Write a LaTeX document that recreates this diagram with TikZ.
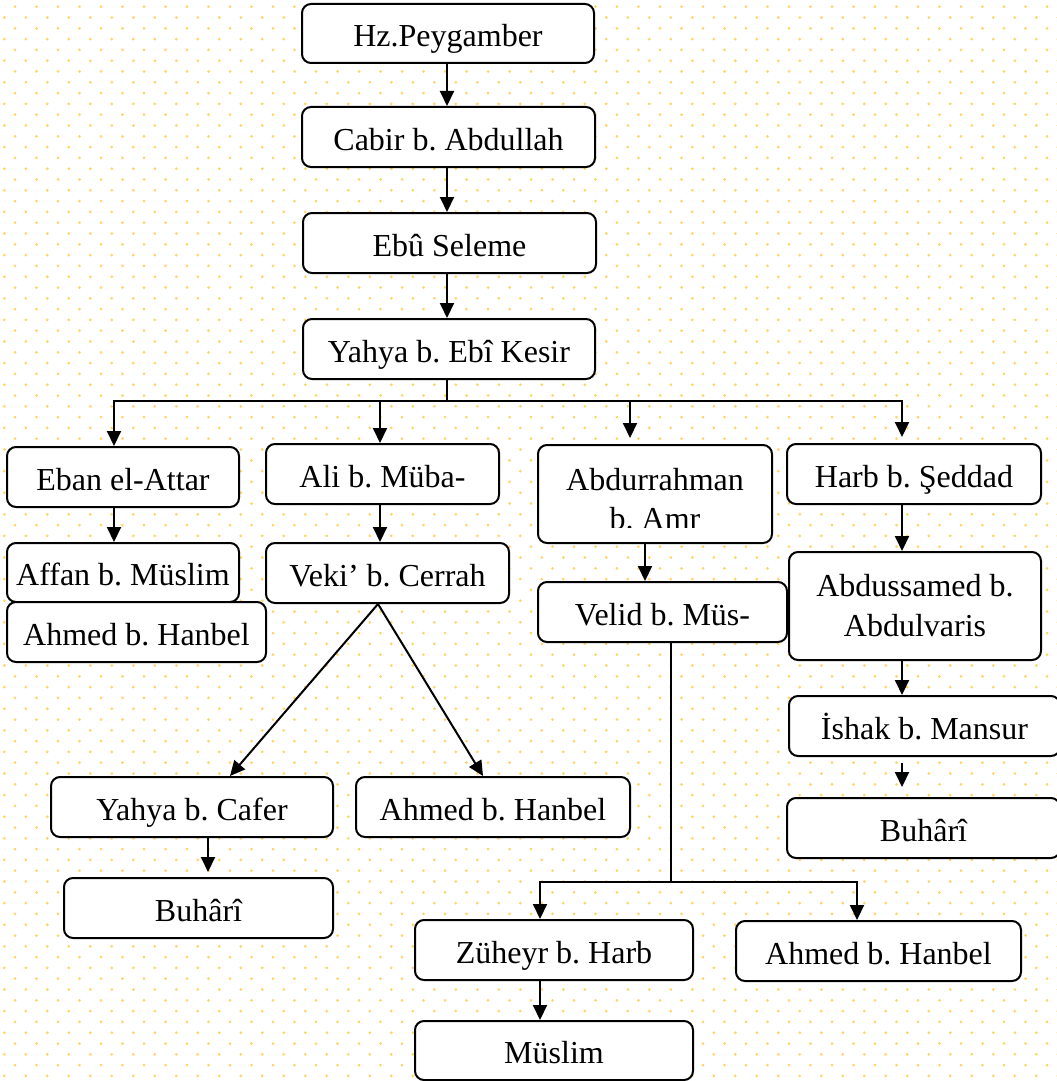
\documentclass[tikz,border=0pt]{standalone}
\usepackage{fontspec}
\setmainfont{Liberation Serif}
\usepackage{tikz}
\usetikzlibrary{positioning,calc,arrows.meta,shapes.geometric}
\definecolor{dotyellow}{RGB}{255,212,100}
\frenchspacing

\begin{document}
\begin{tikzpicture}[x=0.5pt,y=-0.5pt]
            \useasboundingbox (0,0) rectangle (1056,1081);
            % dotted paper
            \foreach \r in {0,...,50} {
                \foreach \c in {0,...,49} {
                    \fill[dotyellow] (15+\c*21.5, 6.7+\r*21.6) circle[radius=0.75pt];
                    \fill[dotyellow] (4.3+\c*21.5, 17.5+\r*21.6) circle[radius=0.75pt];
                }
            }

            \begin{scope}[every node/.style={draw,fill=white,rounded corners=4.5pt,line width=1pt,inner sep=0pt,font=\fontsize{16}{20}\selectfont,text height=13pt,text depth=0pt}]
                \node[minimum width=146pt, minimum height=29.5pt] (peyg) at (448,33.5) {Hz.Peygamber};
                \node[minimum width=146.5pt, minimum height=30pt] (cabir) at (448.5,137) {Cabir b. Abdullah};
                \node[minimum width=146.5pt, minimum height=30pt] (ebu) at (449.5,243) {Ebû Seleme};
                \node[minimum width=146pt, minimum height=30pt] (yahya) at (449,349) {Yahya b. Ebî Kesir};

                \node[minimum width=116pt, minimum height=30pt] (eban) at (123,477) {Eban el-Attar};
                \node[minimum width=116.5pt, minimum height=30pt] (ali) at (382.5,474) {Ali b. Müba-};
                \node[minimum width=117pt, minimum height=49pt] (abd) at (655,494) {};
                \node[minimum width=127pt, minimum height=30pt] (harb) at (914,474) {Harb b. Şeddad};

                \node[minimum width=116pt, minimum height=29.5pt] (affan) at (123,572.5) {Affan b. Müslim};
                \node[minimum width=129.5pt, minimum height=30pt] (ahmedA) at (136.5,632) {Ahmed b. Hanbel};
                \node[minimum width=121.5pt, minimum height=30pt] (veki) at (387.5,573) {Veki’ b. Cerrah};
                \node[minimum width=124.5pt, minimum height=30pt] (velid) at (662.5,612) {Velid b. Müs-};
                \node[minimum width=126pt, minimum height=54pt, align=center, text height={}, text depth={}] (samed) at (915,606) {Abdussamed b.\\Abdulvaris};

                \node[minimum width=135.5pt, minimum height=30pt] (ishak) at (924.5,726) {İshak b. Mansur};
                \node[minimum width=136.5pt, minimum height=30pt] (buhB) at (923.5,828) {Buhârî};
                \node[minimum width=141pt, minimum height=30pt] (ycafer) at (192,807) {Yahya b. Cafer};
                \node[minimum width=137pt, minimum height=30pt] (ahmedB) at (493,807) {Ahmed b. Hanbel};
                \node[minimum width=134.5pt, minimum height=30pt] (buhA) at (198.5,908) {Buhârî};
                \node[minimum width=139pt, minimum height=30pt] (zuh) at (554,950) {Züheyr b. Harb};
                \node[minimum width=142.5pt, minimum height=30pt] (ahmedC) at (878.5,951) {Ahmed b. Hanbel};
                \node[minimum width=139pt, minimum height=29.5pt] (muslim) at (554,1050.5) {Müslim};
            \end{scope}

            % text of the box that runs over its bottom line
            \begin{scope}[every node/.style={font=\fontsize{16}{20}\selectfont,inner sep=0pt}]
                \clip (538,445) rectangle (772,527);
                \node[anchor=base] (abdtop) at (655,490) {Abdurrahman};
                \node[anchor=base] (abdbot) at (655,529) {b. Amr};
            \end{scope}

            \begin{scope}[>={Triangle[length=7.5pt,width=7pt]},
                          every edge/.style={draw=black,line width=1pt}]
                \path [->] ($(peyg.south)+(-1,0)$) edge ($(cabir.north)+(-1.5,0)$);
                \path [->] ($(cabir.south)+(-1.5,0)$) edge ($(ebu.north)+(-2.5,0)$);
                \path [->] ($(ebu.south)+(-2.5,0)$) edge ($(yahya.north)+(-2,0)$);

                \draw [->,line width=1pt] ($(yahya.south)+(-2,0)$) -- ++(0,21) -| ($(eban.north)+(-9,0)$);
                \draw [->,line width=1pt] ($(yahya.south)+(-2,21)$) -| ($(ali.north)+(-2.5,0)$);
                \draw [->,line width=1pt,shorten >=3pt] ($(yahya.south)+(-2,21)$) -| ($(abd.north)+(-25,0)$);
                \draw [->,line width=1pt,shorten >=3pt] ($(yahya.south)+(-2,21)$) -| ($(harb.north)+(-12,0)$);

                \path [->] ($(eban.south)+(-9,0)$) edge ($(affan.north)+(-9,0)$);
                \path [->] ($(ali.south)+(-2.5,0)$) edge ($(veki.north)+(-7.5,0)$);
                \path [->] ($(abd.south)+(-10,0)$) edge ($(velid.north)+(-17.5,0)$);
                \path [->] ($(harb.south)+(-12,0)$) edge ($(samed.north)+(-13,0)$);
                \path [->] ($(samed.south)+(-13,0)$) edge ($(ishak.north)+(-22.5,0)$);
                \path [->,shorten <=3pt,shorten >=5pt] ($(ishak.south)+(-22.5,0)$) edge ($(buhB.north)+(-21.5,0)$);

                \path [->] ($(veki.south)+(-9.5,0)$) edge ($(ycafer.north)+(38,0)$);
                \path [->] ($(veki.south)+(-9.5,0)$) edge ($(ahmedB.north)+(-10,0)$);
                \path [->,shorten >=2.5pt] ($(ycafer.south)+(16,0)$) edge ($(buhA.north)+(9.5,0)$);

                \coordinate (velidbus) at ($(velid.south)+(8.5,239)$);
                \draw [line width=1pt] ($(velid.south)+(8.5,0)$) -- (velidbus);
                \draw [->,line width=1pt] (velidbus) -| ($(zuh.north)+(-14,0)$);
                \draw [->,line width=1pt] (velidbus) -| ($(ahmedC.north)+(-21.5,0)$);
                \path [->] ($(zuh.south)+(-14,0)$) edge ($(muslim.north)+(-14,0)$);
            \end{scope}
        \end{tikzpicture}
\end{document}
